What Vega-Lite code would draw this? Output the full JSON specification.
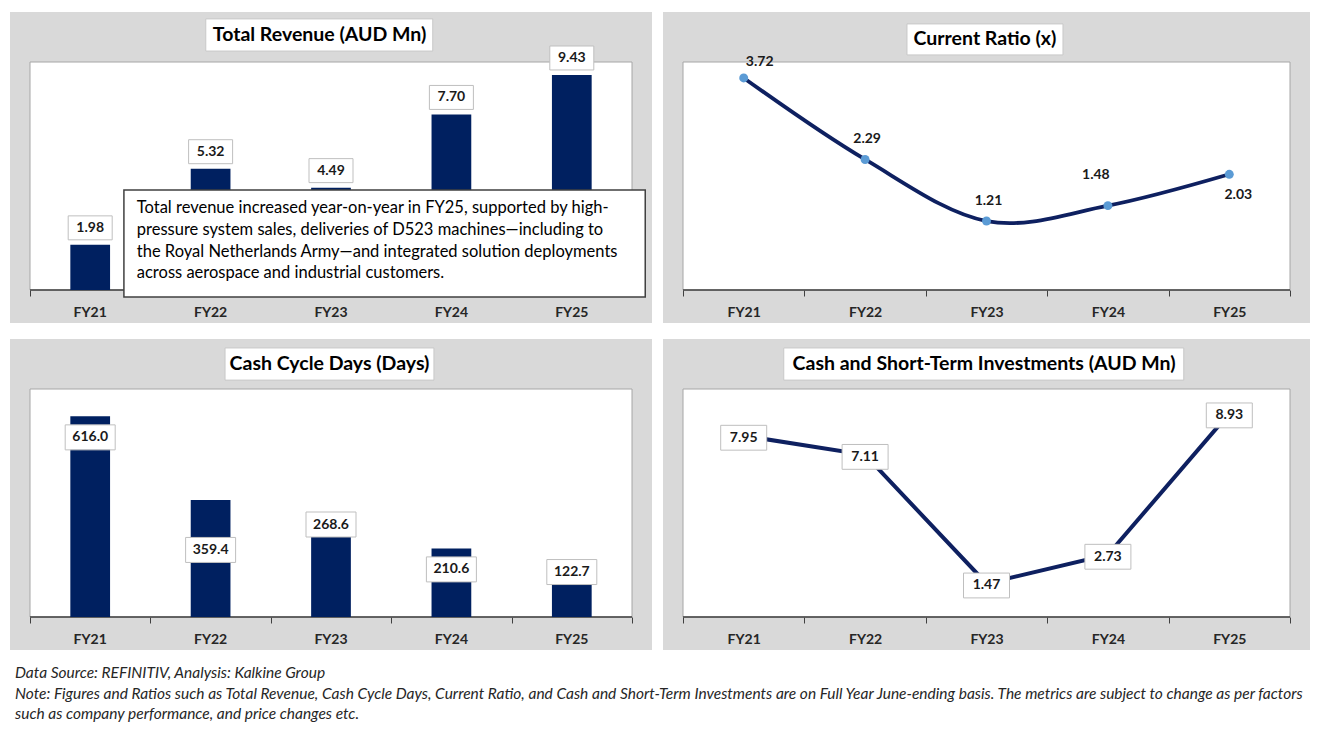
{
"$schema":"https://vega.github.io/schema/vega-lite/v6.json",
"background":"white",
"padding":{"left":10,"top":12,"right":10,"bottom":10},
"autosize":{"type":"pad"},
"datasets":{
 "frame":[{}],
 "revenue":[{"year":"FY21","value":1.98},{"year":"FY22","value":5.32},{"year":"FY23","value":4.49},{"year":"FY24","value":7.70},{"year":"FY25","value":9.43}],
 "ratio":[{"year":"FY21","value":3.72},{"year":"FY22","value":2.29},{"year":"FY23","value":1.21},{"year":"FY24","value":1.48},{"year":"FY25","value":2.03}],
 "ccd":[{"year":"FY21","value":616.0},{"year":"FY22","value":359.4},{"year":"FY23","value":268.6},{"year":"FY24","value":210.6},{"year":"FY25","value":122.7}],
 "cash":[{"year":"FY21","value":7.95},{"year":"FY22","value":7.11},{"year":"FY23","value":1.47},{"year":"FY24","value":2.73},{"year":"FY25","value":8.93}]
},
"config":{
 "view":{"fill":"#D9D9D9","stroke":null},
 "text":{"font":"Lato"},
 "axis":{"labelFont":"Lato"}
},
"title":{
 "text":["Data Source: REFINITIV, Analysis: Kalkine Group","Note: Figures and Ratios such as Total Revenue, Cash Cycle Days, Current Ratio, and Cash and Short-Term Investments are on Full Year June-ending basis. The metrics are subject to change as per factors","such as company performance, and price changes etc."],
 "orient":"bottom","anchor":"start","offset":16,"dx":5,
 "font":"Lato","fontSize":15.5,"fontStyle":"italic","fontWeight":"normal","color":"#262626","lineHeight":20.5
},
"spacing":16,
"vconcat":[
 {"spacing":11,"hconcat":[
  {
   "width":642,"height":311,
   "layer":[
    {"data":{"name":"frame"},"layer":[
      {"mark":{"type":"rect","fill":"white","stroke":"#A6A6A6","strokeWidth":1},
       "encoding":{"x":{"datum":0,"type":"quantitative","scale":{"domain":[0,1],"range":[20,622],"nice":false,"zero":false},
                        "axis":{"orient":"bottom","offset":-33,"values":[0,0.2,0.4,0.6,0.8,1],"labels":false,"domain":false,"grid":false,"ticks":true,"tickSize":6,"tickColor":"#404040","tickWidth":1,"title":null}},
                   "x2":{"datum":1},
                   "y":{"datum":0,"type":"quantitative","scale":{"domain":[0,1],"range":[278,50],"nice":false,"zero":false},"axis":null},
                   "y2":{"datum":1}}},
      {"mark":{"type":"rule","color":"#404040","strokeWidth":1.5},"encoding":{"x":{"datum":0},"x2":{"datum":1},"y":{"datum":0}}},
      {"mark":{"type":"rect","fill":"white","stroke":"#C8C8C8","strokeWidth":1},"encoding":{"x":{"datum":0.292},"x2":{"datum":0.669},"y":{"datum":1.048},"y2":{"datum":1.189}}},
      {"mark":{"type":"text","fontSize":19.5,"fontWeight":"bold","color":"#000000","align":"center","baseline":"middle"},"encoding":{"x":{"datum":0.481},"y":{"datum":1.118},"text":{"value":"Total Revenue (AUD Mn)"}}}
    ]},
    {"data":{"name":"revenue"},
     "encoding":{
      "x":{"field":"year","type":"nominal","sort":null,"scale":{"type":"band","range":[20,622],"paddingInner":0,"paddingOuter":0},
           "axis":{"orient":"bottom","offset":-33,"ticks":false,"tickSize":0,"domain":false,"grid":false,"labelPadding":15,"labelFontSize":14,"labelFontWeight":"bold","labelColor":"#262626","labelAngle":0,"title":null}},
      "y":{"field":"value","type":"quantitative","scale":{"domain":[0,10],"range":[278,50],"nice":false,"zero":true},"axis":null}
     },
     "layer":[
      {"mark":{"type":"bar","color":"#002060","width":{"band":0.33}}},
      {"mark":{"type":"point","shape":"M-1,-1.318H1V-0.228H-1Z","size":1936,"filled":true,"fill":"white","stroke":"#BFBFBF","strokeWidth":1,"opacity":1}},
      {"mark":{"type":"text","dy":-17,"fontSize":14,"fontWeight":"bold","color":"#1A1A1A","baseline":"middle"},"encoding":{"text":{"field":"value","type":"quantitative","format":".2f"}}}
     ]},
    {"data":{"name":"frame"},"layer":[
      {"mark":{"type":"rect","fill":"white","stroke":"#404040","strokeWidth":1.5},
       "encoding":{"x":{"datum":0.156,"type":"quantitative","scale":{"domain":[0,1],"range":[20,622],"nice":false,"zero":false},"axis":null},
                   "x2":{"datum":1.022},
                   "y":{"datum":-0.031,"type":"quantitative","scale":{"domain":[0,1],"range":[278,50],"nice":false,"zero":false},"axis":null},
                   "y2":{"datum":0.439}}},
      {"mark":{"type":"text","align":"left","baseline":"top","fontSize":16.5,"lineHeight":21.7,"color":"#000000"},
       "encoding":{"x":{"datum":0.1774},"y":{"datum":0.393},
                   "text":{"value":["Total revenue increased year-on-year in FY25, supported by high-","pressure system sales, deliveries of D523 machines—including to","the Royal Netherlands Army—and integrated solution deployments","across aerospace and industrial customers."]}}}
    ]}
   ],
   "resolve":{"scale":{"x":"independent","y":"independent"},"axis":{"x":"independent","y":"independent"}}
  },
  {
   "width":647,"height":311,
   "layer":[
    {"data":{"name":"frame"},"layer":[
      {"mark":{"type":"rect","fill":"white","stroke":"#A6A6A6","strokeWidth":1},
       "encoding":{"x":{"datum":0,"type":"quantitative","scale":{"domain":[0,1],"range":[20,627],"nice":false,"zero":false},
                        "axis":{"orient":"bottom","offset":-33,"values":[0,0.2,0.4,0.6,0.8,1],"labels":false,"domain":false,"grid":false,"ticks":true,"tickSize":6,"tickColor":"#404040","tickWidth":1,"title":null}},
                   "x2":{"datum":1},
                   "y":{"datum":0,"type":"quantitative","scale":{"domain":[0,1],"range":[278,50],"nice":false,"zero":false},"axis":null},
                   "y2":{"datum":1}}},
      {"mark":{"type":"rule","color":"#404040","strokeWidth":1.5},"encoding":{"x":{"datum":0},"x2":{"datum":1},"y":{"datum":0}}},
      {"mark":{"type":"rect","fill":"white","stroke":"#C8C8C8","strokeWidth":1},"encoding":{"x":{"datum":0.369},"x2":{"datum":0.626},"y":{"datum":1.031},"y2":{"datum":1.167}}},
      {"mark":{"type":"text","fontSize":19.5,"fontWeight":"bold","color":"#000000","align":"center","baseline":"middle"},"encoding":{"x":{"datum":0.4975},"y":{"datum":1.099},"text":{"value":"Current Ratio (x)"}}}
    ]},
    {"data":{"name":"ratio"},
     "encoding":{
      "x":{"field":"year","type":"nominal","sort":null,"scale":{"type":"point","range":[20,627],"padding":0.5},
           "axis":{"orient":"bottom","offset":-33,"ticks":false,"tickSize":0,"domain":false,"grid":false,"labelPadding":15,"labelFontSize":14,"labelFontWeight":"bold","labelColor":"#262626","labelAngle":0,"title":null}},
      "y":{"field":"value","type":"quantitative","scale":{"domain":[0,4],"range":[278,50],"nice":false,"zero":true},"axis":null}
     },
     "layer":[
      {"mark":{"type":"line","color":"#0E2060","strokeWidth":3.8,"interpolate":"cardinal"}},
      {"mark":{"type":"point","filled":true,"color":"#5B9BD5","size":80,"opacity":1}},
      {"transform":[{"filter":"datum.year==='FY21'"}],"mark":{"type":"text","dx":16,"dy":-16,"fontSize":14,"fontWeight":"bold","color":"#1A1A1A","baseline":"middle"},"encoding":{"text":{"field":"value","type":"quantitative","format":".2f"}}},
      {"transform":[{"filter":"datum.year==='FY22'||datum.year==='FY23'"}],"mark":{"type":"text","dx":2,"dy":-20,"fontSize":14,"fontWeight":"bold","color":"#1A1A1A","baseline":"middle"},"encoding":{"text":{"field":"value","type":"quantitative","format":".2f"}}},
      {"transform":[{"filter":"datum.year==='FY24'"}],"mark":{"type":"text","dx":-12,"dy":-31,"fontSize":14,"fontWeight":"bold","color":"#1A1A1A","baseline":"middle"},"encoding":{"text":{"field":"value","type":"quantitative","format":".2f"}}},
      {"transform":[{"filter":"datum.year==='FY25'"}],"mark":{"type":"text","dx":9,"dy":21,"fontSize":14,"fontWeight":"bold","color":"#1A1A1A","baseline":"middle"},"encoding":{"text":{"field":"value","type":"quantitative","format":".2f"}}}
     ]}
   ],
   "resolve":{"scale":{"x":"independent","y":"independent"},"axis":{"x":"independent","y":"independent"}}
  }
 ]},
 {"spacing":11,"hconcat":[
  {
   "width":642,"height":311,
   "layer":[
    {"data":{"name":"frame"},"layer":[
      {"mark":{"type":"rect","fill":"white","stroke":"#A6A6A6","strokeWidth":1},
       "encoding":{"x":{"datum":0,"type":"quantitative","scale":{"domain":[0,1],"range":[20,622],"nice":false,"zero":false},
                        "axis":{"orient":"bottom","offset":-33,"values":[0,0.2,0.4,0.6,0.8,1],"labels":false,"domain":false,"grid":false,"ticks":true,"tickSize":6,"tickColor":"#404040","tickWidth":1,"title":null}},
                   "x2":{"datum":1},
                   "y":{"datum":0,"type":"quantitative","scale":{"domain":[0,1],"range":[278,50],"nice":false,"zero":false},"axis":null},
                   "y2":{"datum":1}}},
      {"mark":{"type":"rule","color":"#404040","strokeWidth":1.5},"encoding":{"x":{"datum":0},"x2":{"datum":1},"y":{"datum":0}}},
      {"mark":{"type":"rect","fill":"white","stroke":"#C8C8C8","strokeWidth":1},"encoding":{"x":{"datum":0.324},"x2":{"datum":0.671},"y":{"datum":1.039},"y2":{"datum":1.180}}},
      {"mark":{"type":"text","fontSize":19.5,"fontWeight":"bold","color":"#000000","align":"center","baseline":"middle"},"encoding":{"x":{"datum":0.4975},"y":{"datum":1.110},"text":{"value":"Cash Cycle Days (Days)"}}}
    ]},
    {"data":{"name":"ccd"},
     "encoding":{
      "x":{"field":"year","type":"nominal","sort":null,"scale":{"type":"band","range":[20,622],"paddingInner":0,"paddingOuter":0},
           "axis":{"orient":"bottom","offset":-33,"ticks":false,"tickSize":0,"domain":false,"grid":false,"labelPadding":15,"labelFontSize":14,"labelFontWeight":"bold","labelColor":"#262626","labelAngle":0,"title":null}},
      "y":{"field":"value","type":"quantitative","scale":{"domain":[0,700],"range":[278,50],"nice":false,"zero":true},"axis":null}
     },
     "layer":[
      {"mark":{"type":"bar","color":"#002060","width":{"band":0.33}}},
      {"transform":[{"filter":"datum.year==='FY21'||datum.year==='FY24'"}],
       "layer":[
        {"mark":{"type":"point","shape":"M-1,-0.5H1V0.5H-1Z","size":2500,"filled":true,"fill":"white","stroke":"#BFBFBF","strokeWidth":1,"opacity":1,"yOffset":21}},
        {"mark":{"type":"text","dy":21,"fontSize":14,"fontWeight":"bold","color":"#1A1A1A","baseline":"middle"},"encoding":{"text":{"field":"value","type":"quantitative","format":".1f"}}}
       ]},
      {"transform":[{"filter":"datum.year==='FY22'"}],
       "layer":[
        {"mark":{"type":"point","shape":"M-1,-0.5H1V0.5H-1Z","size":2500,"filled":true,"fill":"white","stroke":"#BFBFBF","strokeWidth":1,"opacity":1,"yOffset":50}},
        {"mark":{"type":"text","dy":50,"fontSize":14,"fontWeight":"bold","color":"#1A1A1A","baseline":"middle"},"encoding":{"text":{"field":"value","type":"quantitative","format":".1f"}}}
       ]},
      {"transform":[{"filter":"datum.year==='FY23'||datum.year==='FY25'"}],
       "layer":[
        {"mark":{"type":"point","shape":"M-1,-0.5H1V0.5H-1Z","size":2500,"filled":true,"fill":"white","stroke":"#BFBFBF","strokeWidth":1,"opacity":1,"yOffset":-5}},
        {"mark":{"type":"text","dy":-5,"fontSize":14,"fontWeight":"bold","color":"#1A1A1A","baseline":"middle"},"encoding":{"text":{"field":"value","type":"quantitative","format":".1f"}}}
       ]}
     ]}
   ],
   "resolve":{"scale":{"x":"independent","y":"independent"},"axis":{"x":"independent","y":"independent"}}
  },
  {
   "width":647,"height":311,
   "layer":[
    {"data":{"name":"frame"},"layer":[
      {"mark":{"type":"rect","fill":"white","stroke":"#A6A6A6","strokeWidth":1},
       "encoding":{"x":{"datum":0,"type":"quantitative","scale":{"domain":[0,1],"range":[20,627],"nice":false,"zero":false},
                        "axis":{"orient":"bottom","offset":-33,"values":[0,0.2,0.4,0.6,0.8,1],"labels":false,"domain":false,"grid":false,"ticks":true,"tickSize":6,"tickColor":"#404040","tickWidth":1,"title":null}},
                   "x2":{"datum":1},
                   "y":{"datum":0,"type":"quantitative","scale":{"domain":[0,1],"range":[278,50],"nice":false,"zero":false},"axis":null},
                   "y2":{"datum":1}}},
      {"mark":{"type":"rule","color":"#404040","strokeWidth":1.5},"encoding":{"x":{"datum":0},"x2":{"datum":1},"y":{"datum":0}}},
      {"mark":{"type":"rect","fill":"white","stroke":"#C8C8C8","strokeWidth":1},"encoding":{"x":{"datum":0.166},"x2":{"datum":0.825},"y":{"datum":1.039},"y2":{"datum":1.180}}},
      {"mark":{"type":"text","fontSize":19.5,"fontWeight":"bold","color":"#000000","align":"center","baseline":"middle"},"encoding":{"x":{"datum":0.496},"y":{"datum":1.110},"text":{"value":"Cash and Short-Term Investments (AUD Mn)"}}}
    ]},
    {"data":{"name":"cash"},
     "encoding":{
      "x":{"field":"year","type":"nominal","sort":null,"scale":{"type":"point","range":[20,627],"padding":0.5},
           "axis":{"orient":"bottom","offset":-33,"ticks":false,"tickSize":0,"domain":false,"grid":false,"labelPadding":15,"labelFontSize":14,"labelFontWeight":"bold","labelColor":"#262626","labelAngle":0,"title":null}},
      "y":{"field":"value","type":"quantitative","scale":{"domain":[0,10],"range":[278,50],"nice":false,"zero":true},"axis":null}
     },
     "layer":[
      {"mark":{"type":"line","color":"#0E2060","strokeWidth":4}},
      {"mark":{"type":"point","shape":"M-1,-0.54H1V0.54H-1Z","size":2116,"filled":true,"fill":"white","stroke":"#BFBFBF","strokeWidth":1,"opacity":1,"yOffset":2}},
      {"mark":{"type":"text","dy":2,"fontSize":14,"fontWeight":"bold","color":"#1A1A1A","baseline":"middle"},"encoding":{"text":{"field":"value","type":"quantitative","format":".2f"}}}
     ]}
   ],
   "resolve":{"scale":{"x":"independent","y":"independent"},"axis":{"x":"independent","y":"independent"}}
  }
 ]}
]
}
